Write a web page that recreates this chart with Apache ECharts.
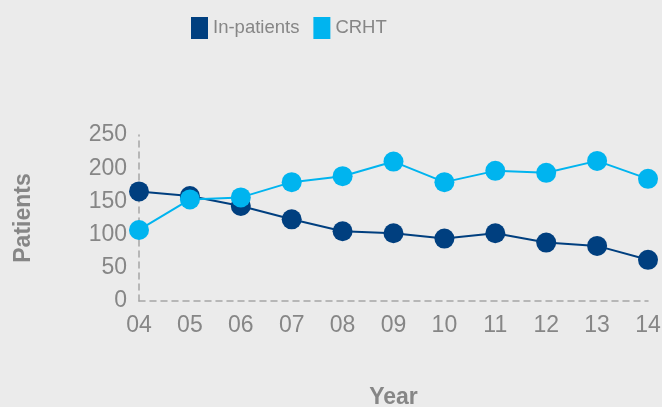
<!DOCTYPE html>
<html>
<head>
<meta charset="utf-8">
<script src="https://cdn.jsdelivr.net/npm/echarts@6/dist/echarts.min.js"></script>
<style>
  html, body { margin: 0; padding: 0; background: #ebebeb; }
  #chart { width: 662px; height: 407px; }
</style>
</head>
<body>
<div id="chart"></div>
<script>
const years = ["04", "05", "06", "07", "08", "09", "10", "11", "12", "13", "14"];
const inPatients = [165, 158, 143, 123, 105, 102, 94, 102, 88, 83, 62];
const crht = [107, 153, 156, 179, 188, 210, 179, 196, 193, 211, 184];
const yTicks = [0, 50, 100, 150, 200, 250];

const grey = "#868686";
const font = "Liberation Sans";

const myChart = echarts.init(document.getElementById("chart"));
const option = {
  backgroundColor: "#ebebeb",
  textStyle: { fontFamily: font },
  legend: {
    top: 12,
    left: 186,
    itemWidth: 17,
    itemHeight: 22,
    itemGap: 14,
    icon: "rect",
    textStyle: { color: grey, fontSize: 18.5, fontFamily: font },
    data: ["In-patients", "CRHT"],
  },
  grid: { left: 139, right: 14, top: 135, bottom: 106, outerBoundsMode: "none" },
  xAxis: {
    type: "category",
    data: years,
    boundaryGap: false,
    name: "Year",
    nameLocation: "middle",
    nameGap: 85,
    nameTextStyle: { color: grey, fontSize: 23, fontWeight: "bold", fontFamily: font },
    axisLine: { lineStyle: { color: "#a6a6a6", type: [6, 5], width: 1.5 } },
    axisTick: { show: false },
    axisLabel: { color: grey, fontSize: 23, margin: 13, fontFamily: font },
  },
  yAxis: {
    type: "value",
    min: yTicks[0],
    max: yTicks[yTicks.length - 1],
    interval: 50,
    name: "Patients",
    nameLocation: "middle",
    nameGap: 104,
    nameTextStyle: { color: grey, fontSize: 23, fontWeight: "bold", fontFamily: font },
    axisLine: { show: true, lineStyle: { color: "#a6a6a6", type: [6, 5], width: 1.5 } },
    axisTick: { show: false },
    splitLine: { show: false },
    axisLabel: { color: grey, fontSize: 23, margin: 12, fontFamily: font },
  },
  series: [
    {
      name: "In-patients",
      type: "line",
      data: inPatients,
      symbol: "circle",
      symbolSize: 20,
      color: "#003f7f",
      lineStyle: { width: 2, color: "#003f7f" },
    },
    {
      name: "CRHT",
      type: "line",
      data: crht,
      symbol: "circle",
      symbolSize: 20,
      color: "#00b4ef",
      lineStyle: { width: 2, color: "#00b4ef" },
    },
  ],
};
myChart.setOption(option);
</script>
</body>
</html>
